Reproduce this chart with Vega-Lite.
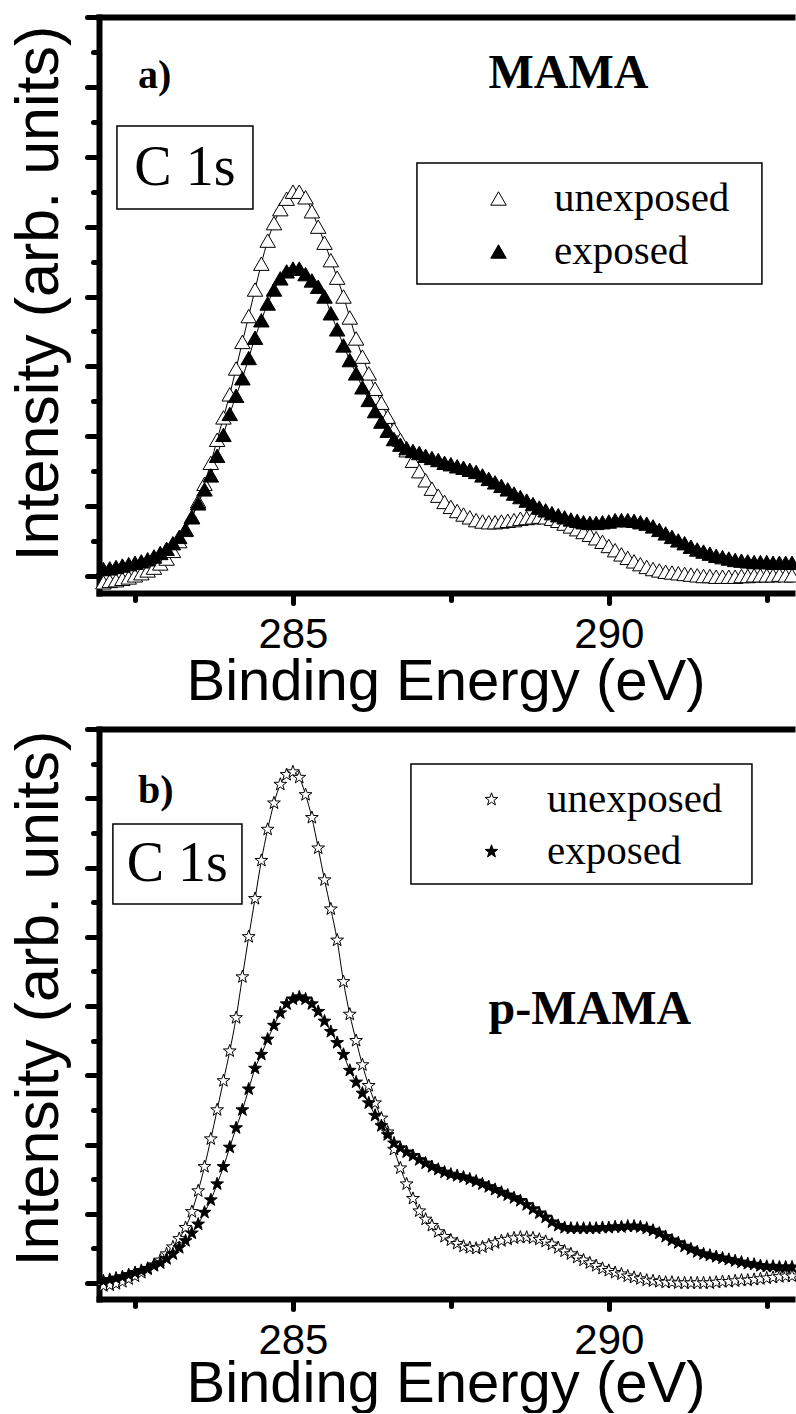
{
"$schema":"https://vega.github.io/schema/vega-lite/v6.json",
"background":"white",
"padding":{"left":8,"top":14,"right":0,"bottom":0},
"spacing":136,
"bounds":"flush",
"config":{"view":{"stroke":null},"font":"Liberation Sans"},
"resolve":{"scale":{"shape":"independent","fill":"independent","stroke":"independent"},"legend":{"shape":"independent","fill":"independent","stroke":"independent"}},
"vconcat":[
{
"width":693,"height":576,
"data":{"values":[
{"s":"unexposed","e":282.0,"i":-0.09},{"s":"unexposed","e":282.1,"i":-0.07},{"s":"unexposed","e":282.2,"i":-0.06},{"s":"unexposed","e":282.3,"i":-0.04},{"s":"unexposed","e":282.4,"i":-0.02},{"s":"unexposed","e":282.5,"i":0.01},{"s":"unexposed","e":282.6,"i":0.04},{"s":"unexposed","e":282.7,"i":0.08},{"s":"unexposed","e":282.8,"i":0.12},{"s":"unexposed","e":282.9,"i":0.18},
{"s":"unexposed","e":283.0,"i":0.25},{"s":"unexposed","e":283.1,"i":0.36},{"s":"unexposed","e":283.2,"i":0.5},{"s":"unexposed","e":283.3,"i":0.66},{"s":"unexposed","e":283.4,"i":0.85},{"s":"unexposed","e":283.5,"i":1.07},{"s":"unexposed","e":283.6,"i":1.32},{"s":"unexposed","e":283.7,"i":1.62},{"s":"unexposed","e":283.8,"i":1.95},{"s":"unexposed","e":283.9,"i":2.27},
{"s":"unexposed","e":284.0,"i":2.6},{"s":"unexposed","e":284.1,"i":2.97},{"s":"unexposed","e":284.2,"i":3.35},{"s":"unexposed","e":284.3,"i":3.72},{"s":"unexposed","e":284.4,"i":4.1},{"s":"unexposed","e":284.5,"i":4.47},{"s":"unexposed","e":284.6,"i":4.8},{"s":"unexposed","e":284.7,"i":5.05},{"s":"unexposed","e":284.8,"i":5.25},{"s":"unexposed","e":284.9,"i":5.4},
{"s":"unexposed","e":285.0,"i":5.5},{"s":"unexposed","e":285.1,"i":5.5},{"s":"unexposed","e":285.2,"i":5.42},{"s":"unexposed","e":285.3,"i":5.22},{"s":"unexposed","e":285.4,"i":5.0},{"s":"unexposed","e":285.5,"i":4.77},{"s":"unexposed","e":285.6,"i":4.52},{"s":"unexposed","e":285.7,"i":4.27},{"s":"unexposed","e":285.8,"i":4.0},{"s":"unexposed","e":285.9,"i":3.7},
{"s":"unexposed","e":286.0,"i":3.4},{"s":"unexposed","e":286.1,"i":3.14},{"s":"unexposed","e":286.2,"i":2.9},{"s":"unexposed","e":286.3,"i":2.68},{"s":"unexposed","e":286.4,"i":2.48},{"s":"unexposed","e":286.5,"i":2.28},{"s":"unexposed","e":286.6,"i":2.1},{"s":"unexposed","e":286.7,"i":1.95},{"s":"unexposed","e":286.8,"i":1.8},{"s":"unexposed","e":286.9,"i":1.65},
{"s":"unexposed","e":287.0,"i":1.5},{"s":"unexposed","e":287.1,"i":1.37},{"s":"unexposed","e":287.2,"i":1.25},{"s":"unexposed","e":287.3,"i":1.15},{"s":"unexposed","e":287.4,"i":1.06},{"s":"unexposed","e":287.5,"i":0.99},{"s":"unexposed","e":287.6,"i":0.93},{"s":"unexposed","e":287.7,"i":0.88},{"s":"unexposed","e":287.8,"i":0.84},{"s":"unexposed","e":287.9,"i":0.8},
{"s":"unexposed","e":288.0,"i":0.78},{"s":"unexposed","e":288.1,"i":0.77},{"s":"unexposed","e":288.2,"i":0.77},{"s":"unexposed","e":288.3,"i":0.78},{"s":"unexposed","e":288.4,"i":0.79},{"s":"unexposed","e":288.5,"i":0.8},{"s":"unexposed","e":288.6,"i":0.82},{"s":"unexposed","e":288.7,"i":0.83},{"s":"unexposed","e":288.8,"i":0.84},{"s":"unexposed","e":288.9,"i":0.85},
{"s":"unexposed","e":289.0,"i":0.84},{"s":"unexposed","e":289.1,"i":0.82},{"s":"unexposed","e":289.2,"i":0.79},{"s":"unexposed","e":289.3,"i":0.75},{"s":"unexposed","e":289.4,"i":0.71},{"s":"unexposed","e":289.5,"i":0.67},{"s":"unexposed","e":289.6,"i":0.63},{"s":"unexposed","e":289.7,"i":0.59},{"s":"unexposed","e":289.8,"i":0.54},{"s":"unexposed","e":289.9,"i":0.49},
{"s":"unexposed","e":290.0,"i":0.43},{"s":"unexposed","e":290.1,"i":0.37},{"s":"unexposed","e":290.2,"i":0.31},{"s":"unexposed","e":290.3,"i":0.26},{"s":"unexposed","e":290.4,"i":0.21},{"s":"unexposed","e":290.5,"i":0.17},{"s":"unexposed","e":290.6,"i":0.13},{"s":"unexposed","e":290.7,"i":0.1},{"s":"unexposed","e":290.8,"i":0.08},{"s":"unexposed","e":290.9,"i":0.06},
{"s":"unexposed","e":291.0,"i":0.05},{"s":"unexposed","e":291.1,"i":0.04},{"s":"unexposed","e":291.2,"i":0.03},{"s":"unexposed","e":291.3,"i":0.02},{"s":"unexposed","e":291.4,"i":0.01},{"s":"unexposed","e":291.5,"i":0.0},{"s":"unexposed","e":291.6,"i":0.0},{"s":"unexposed","e":291.7,"i":-0.01},{"s":"unexposed","e":291.8,"i":-0.01},{"s":"unexposed","e":291.9,"i":-0.01},
{"s":"unexposed","e":292.0,"i":-0.01},{"s":"unexposed","e":292.1,"i":0.0},{"s":"unexposed","e":292.2,"i":0.0},{"s":"unexposed","e":292.3,"i":0.01},{"s":"unexposed","e":292.4,"i":0.01},{"s":"unexposed","e":292.5,"i":0.01},{"s":"unexposed","e":292.6,"i":0.01},{"s":"unexposed","e":292.7,"i":0.02},{"s":"unexposed","e":292.8,"i":0.01},{"s":"unexposed","e":292.9,"i":0.01},
{"s":"exposed","e":282.0,"i":0.1},{"s":"exposed","e":282.1,"i":0.11},{"s":"exposed","e":282.2,"i":0.13},{"s":"exposed","e":282.3,"i":0.15},{"s":"exposed","e":282.4,"i":0.17},{"s":"exposed","e":282.5,"i":0.19},{"s":"exposed","e":282.6,"i":0.21},{"s":"exposed","e":282.7,"i":0.24},{"s":"exposed","e":282.8,"i":0.28},{"s":"exposed","e":282.9,"i":0.33},
{"s":"exposed","e":283.0,"i":0.39},{"s":"exposed","e":283.1,"i":0.47},{"s":"exposed","e":283.2,"i":0.56},{"s":"exposed","e":283.3,"i":0.67},{"s":"exposed","e":283.4,"i":0.84},{"s":"exposed","e":283.5,"i":1.04},{"s":"exposed","e":283.6,"i":1.24},{"s":"exposed","e":283.7,"i":1.44},{"s":"exposed","e":283.8,"i":1.72},{"s":"exposed","e":283.9,"i":2.02},
{"s":"exposed","e":284.0,"i":2.32},{"s":"exposed","e":284.1,"i":2.58},{"s":"exposed","e":284.2,"i":2.83},{"s":"exposed","e":284.3,"i":3.12},{"s":"exposed","e":284.4,"i":3.41},{"s":"exposed","e":284.5,"i":3.66},{"s":"exposed","e":284.6,"i":3.9},{"s":"exposed","e":284.7,"i":4.1},{"s":"exposed","e":284.8,"i":4.26},{"s":"exposed","e":284.9,"i":4.36},
{"s":"exposed","e":285.0,"i":4.4},{"s":"exposed","e":285.1,"i":4.4},{"s":"exposed","e":285.2,"i":4.32},{"s":"exposed","e":285.3,"i":4.23},{"s":"exposed","e":285.4,"i":4.14},{"s":"exposed","e":285.5,"i":4.0},{"s":"exposed","e":285.6,"i":3.76},{"s":"exposed","e":285.7,"i":3.53},{"s":"exposed","e":285.8,"i":3.3},{"s":"exposed","e":285.9,"i":3.09},
{"s":"exposed","e":286.0,"i":2.9},{"s":"exposed","e":286.1,"i":2.7},{"s":"exposed","e":286.2,"i":2.52},{"s":"exposed","e":286.3,"i":2.36},{"s":"exposed","e":286.4,"i":2.21},{"s":"exposed","e":286.5,"i":2.08},{"s":"exposed","e":286.6,"i":1.96},{"s":"exposed","e":286.7,"i":1.88},{"s":"exposed","e":286.8,"i":1.83},{"s":"exposed","e":286.9,"i":1.79},
{"s":"exposed","e":287.0,"i":1.76},{"s":"exposed","e":287.1,"i":1.72},{"s":"exposed","e":287.2,"i":1.69},{"s":"exposed","e":287.3,"i":1.66},{"s":"exposed","e":287.4,"i":1.62},{"s":"exposed","e":287.5,"i":1.6},{"s":"exposed","e":287.6,"i":1.57},{"s":"exposed","e":287.7,"i":1.55},{"s":"exposed","e":287.8,"i":1.52},{"s":"exposed","e":287.9,"i":1.49},
{"s":"exposed","e":288.0,"i":1.44},{"s":"exposed","e":288.1,"i":1.39},{"s":"exposed","e":288.2,"i":1.34},{"s":"exposed","e":288.3,"i":1.29},{"s":"exposed","e":288.4,"i":1.24},{"s":"exposed","e":288.5,"i":1.18},{"s":"exposed","e":288.6,"i":1.13},{"s":"exposed","e":288.7,"i":1.08},{"s":"exposed","e":288.8,"i":1.03},{"s":"exposed","e":288.9,"i":0.98},
{"s":"exposed","e":289.0,"i":0.94},{"s":"exposed","e":289.1,"i":0.9},{"s":"exposed","e":289.2,"i":0.87},{"s":"exposed","e":289.3,"i":0.84},{"s":"exposed","e":289.4,"i":0.81},{"s":"exposed","e":289.5,"i":0.79},{"s":"exposed","e":289.6,"i":0.77},{"s":"exposed","e":289.7,"i":0.76},{"s":"exposed","e":289.8,"i":0.76},{"s":"exposed","e":289.9,"i":0.77},
{"s":"exposed","e":290.0,"i":0.78},{"s":"exposed","e":290.1,"i":0.8},{"s":"exposed","e":290.2,"i":0.8},{"s":"exposed","e":290.3,"i":0.8},{"s":"exposed","e":290.4,"i":0.79},{"s":"exposed","e":290.5,"i":0.77},{"s":"exposed","e":290.6,"i":0.75},{"s":"exposed","e":290.7,"i":0.71},{"s":"exposed","e":290.8,"i":0.66},{"s":"exposed","e":290.9,"i":0.61},
{"s":"exposed","e":291.0,"i":0.56},{"s":"exposed","e":291.1,"i":0.51},{"s":"exposed","e":291.2,"i":0.47},{"s":"exposed","e":291.3,"i":0.42},{"s":"exposed","e":291.4,"i":0.38},{"s":"exposed","e":291.5,"i":0.35},{"s":"exposed","e":291.6,"i":0.32},{"s":"exposed","e":291.7,"i":0.29},{"s":"exposed","e":291.8,"i":0.27},{"s":"exposed","e":291.9,"i":0.25},
{"s":"exposed","e":292.0,"i":0.23},{"s":"exposed","e":292.1,"i":0.22},{"s":"exposed","e":292.2,"i":0.21},{"s":"exposed","e":292.3,"i":0.2},{"s":"exposed","e":292.4,"i":0.2},{"s":"exposed","e":292.5,"i":0.2},{"s":"exposed","e":292.6,"i":0.19},{"s":"exposed","e":292.7,"i":0.19},{"s":"exposed","e":292.8,"i":0.19},{"s":"exposed","e":292.9,"i":0.19}
]},
"resolve":{"axis":{"x":"independent","y":"independent"}},
"layer":[
{"mark":{"type":"line","color":"black","strokeWidth":1,"interpolate":"monotone"},
"encoding":{
"x":{"field":"e","type":"quantitative","scale":{"domain":[281.93,292.9],"nice":false,"zero":false},
"axis":{"orient":"bottom","values":[285,290],"format":"d","tickSize":10,"tickWidth":5,"tickCap":"round","tickColor":"black","domainColor":"black","domainWidth":6,"domainCap":"square","grid":false,"labelFont":"Liberation Sans","labelFontSize":42,"labelColor":"black","labelPadding":11,"labelFlush":false,"labelOverlap":false,"title":"Binding Energy (eV)","titleFont":"Liberation Sans","titleFontSize":58,"titleFontWeight":"normal","titleColor":"black","titlePadding":-2}},
"y":{"field":"i","type":"quantitative","scale":{"domain":[-0.243,8],"nice":false,"zero":false},
"axis":{"orient":"left","values":[0,1,2,3,4,5,6,7,8],"labels":false,"tickSize":12,"tickWidth":5,"tickCap":"round","tickColor":"black","domainColor":"black","domainWidth":6,"domainCap":"square","grid":false,"title":"Intensity (arb. units)","titleFont":"Liberation Sans","titleFontSize":61,"titleFontWeight":"normal","titleColor":"black","titlePadding":14,"titleY":276}},
"detail":{"field":"s"}}},
{"mark":{"type":"point","filled":true,"color":"black","stroke":"black","strokeWidth":1,"size":240,"opacity":1},
"encoding":{
"x":{"field":"e","type":"quantitative","axis":{"orient":"bottom","values":[282.5,287.5,292.5],"labels":false,"domain":false,"grid":false,"tickSize":7,"tickWidth":5,"tickCap":"round","tickColor":"black","title":null}},
"y":{"field":"i","type":"quantitative","axis":{"orient":"left","values":[0.5,1.5,2.5,3.5,4.5,5.5,6.5,7.5],"labels":false,"domain":false,"grid":false,"tickSize":6,"tickWidth":5,"tickCap":"round","tickColor":"black","title":null}},
"shape":{"field":"s","type":"nominal","scale":{"domain":["unexposed","exposed"],"range":["triangle-up","triangle-up"]},
"legend":{"orient":"none","direction":"vertical","legendX":379,"legendY":161,"title":null,"labelFont":"Liberation Serif","labelFontSize":41,"labelColor":"black","symbolSize":240,"symbolStrokeColor":"black","symbolStrokeWidth":1,"labelOffset":35,"rowPadding":11,"padding":0,"labelLimit":0}},
"fill":{"field":"s","type":"nominal","scale":{"domain":["unexposed","exposed"],"range":["white","black"]},
"legend":{"orient":"none","direction":"vertical","legendX":379,"legendY":161,"title":null,"labelFont":"Liberation Serif","labelFontSize":41,"labelColor":"black","symbolSize":240,"symbolStrokeColor":"black","symbolStrokeWidth":1,"labelOffset":35,"rowPadding":11,"padding":0,"labelLimit":0}},
"stroke":{"field":"s","type":"nominal","scale":{"domain":["unexposed","exposed"],"range":["black","black"]},
"legend":{"orient":"none","direction":"vertical","legendX":379,"legendY":161,"title":null,"labelFont":"Liberation Serif","labelFontSize":41,"labelColor":"black","symbolSize":240,"symbolStrokeColor":"black","symbolStrokeWidth":1,"labelOffset":35,"rowPadding":11,"padding":0,"labelLimit":0}}}},
{"data":{"values":[{}]},"mark":{"type":"rect","filled":false,"color":"black","strokeWidth":1.5},
"encoding":{"x":{"datum":286.963,"type":"quantitative","axis":{"orient":"top","ticks":false,"labels":false,"domain":true,"domainWidth":6,"domainColor":"black","domainCap":"square","grid":false,"title":null}},"x2":{"datum":292.424},"y":{"datum":5.91,"type":"quantitative","axis":null},"y2":{"datum":4.179}}},
{"data":{"values":[{}]},"mark":{"type":"rect","filled":false,"color":"black","strokeWidth":1.5},
"encoding":{"x":{"datum":282.214,"type":"quantitative","axis":null},"x2":{"datum":284.367},"y":{"datum":6.44,"type":"quantitative","axis":null},"y2":{"datum":5.252}}},
{"data":{"values":[{}]},"mark":{"type":"text","text":"C 1s","font":"Liberation Serif","fontSize":56,"align":"center","baseline":"middle","color":"black"},
"encoding":{"x":{"datum":283.29,"type":"quantitative","axis":null},"y":{"datum":5.84,"type":"quantitative","axis":null}}},
{"data":{"values":[{}]},"mark":{"type":"text","text":"a)","font":"Liberation Serif","fontWeight":"bold","fontSize":40,"align":"left","baseline":"alphabetic","color":"black"},
"encoding":{"x":{"datum":282.546,"type":"quantitative","axis":null},"y":{"datum":6.983,"type":"quantitative","axis":null}}},
{"data":{"values":[{}]},"mark":{"type":"text","text":"MAMA","font":"Liberation Serif","fontWeight":"bold","fontSize":48,"align":"center","baseline":"alphabetic","color":"black"},
"encoding":{"x":{"datum":289.361,"type":"quantitative","axis":null},"y":{"datum":6.983,"type":"quantitative","axis":null}}}
]
},
{
"width":693,"height":570,
"data":{"values":[
{"s":"unexposed","e":282.0,"i":-0.04},{"s":"unexposed","e":282.1,"i":-0.03},{"s":"unexposed","e":282.2,"i":-0.01},{"s":"unexposed","e":282.3,"i":0.02},{"s":"unexposed","e":282.4,"i":0.06},{"s":"unexposed","e":282.5,"i":0.1},{"s":"unexposed","e":282.6,"i":0.15},{"s":"unexposed","e":282.7,"i":0.2},{"s":"unexposed","e":282.8,"i":0.26},{"s":"unexposed","e":282.9,"i":0.33},
{"s":"unexposed","e":283.0,"i":0.42},{"s":"unexposed","e":283.1,"i":0.52},{"s":"unexposed","e":283.2,"i":0.64},{"s":"unexposed","e":283.3,"i":0.8},{"s":"unexposed","e":283.4,"i":1.03},{"s":"unexposed","e":283.5,"i":1.33},{"s":"unexposed","e":283.6,"i":1.68},{"s":"unexposed","e":283.7,"i":2.08},{"s":"unexposed","e":283.8,"i":2.5},{"s":"unexposed","e":283.9,"i":2.92},
{"s":"unexposed","e":284.0,"i":3.35},{"s":"unexposed","e":284.1,"i":3.83},{"s":"unexposed","e":284.2,"i":4.42},{"s":"unexposed","e":284.3,"i":5.0},{"s":"unexposed","e":284.4,"i":5.55},{"s":"unexposed","e":284.5,"i":6.1},{"s":"unexposed","e":284.6,"i":6.55},{"s":"unexposed","e":284.7,"i":6.93},{"s":"unexposed","e":284.8,"i":7.2},{"s":"unexposed","e":284.9,"i":7.34},
{"s":"unexposed","e":285.0,"i":7.38},{"s":"unexposed","e":285.1,"i":7.3},{"s":"unexposed","e":285.2,"i":7.05},{"s":"unexposed","e":285.3,"i":6.72},{"s":"unexposed","e":285.4,"i":6.28},{"s":"unexposed","e":285.5,"i":5.82},{"s":"unexposed","e":285.6,"i":5.4},{"s":"unexposed","e":285.7,"i":4.95},{"s":"unexposed","e":285.8,"i":4.35},{"s":"unexposed","e":285.9,"i":3.88},
{"s":"unexposed","e":286.0,"i":3.5},{"s":"unexposed","e":286.1,"i":3.15},{"s":"unexposed","e":286.2,"i":2.85},{"s":"unexposed","e":286.3,"i":2.6},{"s":"unexposed","e":286.4,"i":2.38},{"s":"unexposed","e":286.5,"i":2.18},{"s":"unexposed","e":286.6,"i":1.93},{"s":"unexposed","e":286.7,"i":1.66},{"s":"unexposed","e":286.8,"i":1.43},{"s":"unexposed","e":286.9,"i":1.22},
{"s":"unexposed","e":287.0,"i":1.04},{"s":"unexposed","e":287.1,"i":0.92},{"s":"unexposed","e":287.2,"i":0.83},{"s":"unexposed","e":287.3,"i":0.74},{"s":"unexposed","e":287.4,"i":0.67},{"s":"unexposed","e":287.5,"i":0.62},{"s":"unexposed","e":287.6,"i":0.57},{"s":"unexposed","e":287.7,"i":0.53},{"s":"unexposed","e":287.8,"i":0.51},{"s":"unexposed","e":287.9,"i":0.5},
{"s":"unexposed","e":288.0,"i":0.52},{"s":"unexposed","e":288.1,"i":0.55},{"s":"unexposed","e":288.2,"i":0.58},{"s":"unexposed","e":288.3,"i":0.61},{"s":"unexposed","e":288.4,"i":0.63},{"s":"unexposed","e":288.5,"i":0.65},{"s":"unexposed","e":288.6,"i":0.66},{"s":"unexposed","e":288.7,"i":0.66},{"s":"unexposed","e":288.8,"i":0.65},{"s":"unexposed","e":288.9,"i":0.63},
{"s":"unexposed","e":289.0,"i":0.6},{"s":"unexposed","e":289.1,"i":0.56},{"s":"unexposed","e":289.2,"i":0.51},{"s":"unexposed","e":289.3,"i":0.46},{"s":"unexposed","e":289.4,"i":0.42},{"s":"unexposed","e":289.5,"i":0.37},{"s":"unexposed","e":289.6,"i":0.33},{"s":"unexposed","e":289.7,"i":0.29},{"s":"unexposed","e":289.8,"i":0.25},{"s":"unexposed","e":289.9,"i":0.21},
{"s":"unexposed","e":290.0,"i":0.18},{"s":"unexposed","e":290.1,"i":0.15},{"s":"unexposed","e":290.2,"i":0.13},{"s":"unexposed","e":290.3,"i":0.1},{"s":"unexposed","e":290.4,"i":0.08},{"s":"unexposed","e":290.5,"i":0.06},{"s":"unexposed","e":290.6,"i":0.04},{"s":"unexposed","e":290.7,"i":0.03},{"s":"unexposed","e":290.8,"i":0.02},{"s":"unexposed","e":290.9,"i":0.01},
{"s":"unexposed","e":291.0,"i":0.01},{"s":"unexposed","e":291.1,"i":0.0},{"s":"unexposed","e":291.2,"i":0.0},{"s":"unexposed","e":291.3,"i":0.0},{"s":"unexposed","e":291.4,"i":0.0},{"s":"unexposed","e":291.5,"i":0.0},{"s":"unexposed","e":291.6,"i":0.0},{"s":"unexposed","e":291.7,"i":0.01},{"s":"unexposed","e":291.8,"i":0.02},{"s":"unexposed","e":291.9,"i":0.02},
{"s":"unexposed","e":292.0,"i":0.03},{"s":"unexposed","e":292.1,"i":0.04},{"s":"unexposed","e":292.2,"i":0.04},{"s":"unexposed","e":292.3,"i":0.05},{"s":"unexposed","e":292.4,"i":0.06},{"s":"unexposed","e":292.5,"i":0.07},{"s":"unexposed","e":292.6,"i":0.08},{"s":"unexposed","e":292.7,"i":0.09},{"s":"unexposed","e":292.8,"i":0.1},{"s":"unexposed","e":292.9,"i":0.1},
{"s":"exposed","e":282.0,"i":0.03},{"s":"exposed","e":282.1,"i":0.05},{"s":"exposed","e":282.2,"i":0.07},{"s":"exposed","e":282.3,"i":0.09},{"s":"exposed","e":282.4,"i":0.12},{"s":"exposed","e":282.5,"i":0.15},{"s":"exposed","e":282.6,"i":0.18},{"s":"exposed","e":282.7,"i":0.21},{"s":"exposed","e":282.8,"i":0.25},{"s":"exposed","e":282.9,"i":0.29},
{"s":"exposed","e":283.0,"i":0.35},{"s":"exposed","e":283.1,"i":0.42},{"s":"exposed","e":283.2,"i":0.51},{"s":"exposed","e":283.3,"i":0.61},{"s":"exposed","e":283.4,"i":0.72},{"s":"exposed","e":283.5,"i":0.85},{"s":"exposed","e":283.6,"i":1.02},{"s":"exposed","e":283.7,"i":1.2},{"s":"exposed","e":283.8,"i":1.43},{"s":"exposed","e":283.9,"i":1.68},
{"s":"exposed","e":284.0,"i":1.96},{"s":"exposed","e":284.1,"i":2.24},{"s":"exposed","e":284.2,"i":2.5},{"s":"exposed","e":284.3,"i":2.8},{"s":"exposed","e":284.4,"i":3.1},{"s":"exposed","e":284.5,"i":3.3},{"s":"exposed","e":284.6,"i":3.52},{"s":"exposed","e":284.7,"i":3.72},{"s":"exposed","e":284.8,"i":3.9},{"s":"exposed","e":284.9,"i":4.03},
{"s":"exposed","e":285.0,"i":4.1},{"s":"exposed","e":285.1,"i":4.13},{"s":"exposed","e":285.2,"i":4.1},{"s":"exposed","e":285.3,"i":4.03},{"s":"exposed","e":285.4,"i":3.92},{"s":"exposed","e":285.5,"i":3.78},{"s":"exposed","e":285.6,"i":3.63},{"s":"exposed","e":285.7,"i":3.47},{"s":"exposed","e":285.8,"i":3.3},{"s":"exposed","e":285.9,"i":3.07},
{"s":"exposed","e":286.0,"i":2.9},{"s":"exposed","e":286.1,"i":2.74},{"s":"exposed","e":286.2,"i":2.6},{"s":"exposed","e":286.3,"i":2.42},{"s":"exposed","e":286.4,"i":2.27},{"s":"exposed","e":286.5,"i":2.14},{"s":"exposed","e":286.6,"i":2.02},{"s":"exposed","e":286.7,"i":1.95},{"s":"exposed","e":286.8,"i":1.89},{"s":"exposed","e":286.9,"i":1.84},
{"s":"exposed","e":287.0,"i":1.78},{"s":"exposed","e":287.1,"i":1.73},{"s":"exposed","e":287.2,"i":1.68},{"s":"exposed","e":287.3,"i":1.64},{"s":"exposed","e":287.4,"i":1.6},{"s":"exposed","e":287.5,"i":1.57},{"s":"exposed","e":287.6,"i":1.55},{"s":"exposed","e":287.7,"i":1.53},{"s":"exposed","e":287.8,"i":1.5},{"s":"exposed","e":287.9,"i":1.47},
{"s":"exposed","e":288.0,"i":1.43},{"s":"exposed","e":288.1,"i":1.39},{"s":"exposed","e":288.2,"i":1.35},{"s":"exposed","e":288.3,"i":1.31},{"s":"exposed","e":288.4,"i":1.27},{"s":"exposed","e":288.5,"i":1.23},{"s":"exposed","e":288.6,"i":1.19},{"s":"exposed","e":288.7,"i":1.13},{"s":"exposed","e":288.8,"i":1.07},{"s":"exposed","e":288.9,"i":1.01},
{"s":"exposed","e":289.0,"i":0.95},{"s":"exposed","e":289.1,"i":0.88},{"s":"exposed","e":289.2,"i":0.83},{"s":"exposed","e":289.3,"i":0.8},{"s":"exposed","e":289.4,"i":0.79},{"s":"exposed","e":289.5,"i":0.79},{"s":"exposed","e":289.6,"i":0.79},{"s":"exposed","e":289.7,"i":0.79},{"s":"exposed","e":289.8,"i":0.79},{"s":"exposed","e":289.9,"i":0.8},
{"s":"exposed","e":290.0,"i":0.8},{"s":"exposed","e":290.1,"i":0.81},{"s":"exposed","e":290.2,"i":0.81},{"s":"exposed","e":290.3,"i":0.82},{"s":"exposed","e":290.4,"i":0.82},{"s":"exposed","e":290.5,"i":0.81},{"s":"exposed","e":290.6,"i":0.79},{"s":"exposed","e":290.7,"i":0.76},{"s":"exposed","e":290.8,"i":0.72},{"s":"exposed","e":290.9,"i":0.67},
{"s":"exposed","e":291.0,"i":0.62},{"s":"exposed","e":291.1,"i":0.58},{"s":"exposed","e":291.2,"i":0.53},{"s":"exposed","e":291.3,"i":0.49},{"s":"exposed","e":291.4,"i":0.45},{"s":"exposed","e":291.5,"i":0.42},{"s":"exposed","e":291.6,"i":0.4},{"s":"exposed","e":291.7,"i":0.38},{"s":"exposed","e":291.8,"i":0.36},{"s":"exposed","e":291.9,"i":0.34},
{"s":"exposed","e":292.0,"i":0.32},{"s":"exposed","e":292.1,"i":0.3},{"s":"exposed","e":292.2,"i":0.28},{"s":"exposed","e":292.3,"i":0.27},{"s":"exposed","e":292.4,"i":0.25},{"s":"exposed","e":292.5,"i":0.24},{"s":"exposed","e":292.6,"i":0.24},{"s":"exposed","e":292.7,"i":0.23},{"s":"exposed","e":292.8,"i":0.23},{"s":"exposed","e":292.9,"i":0.23}
]},
"resolve":{"axis":{"x":"independent","y":"independent"}},
"layer":[
{"mark":{"type":"line","color":"black","strokeWidth":1,"interpolate":"monotone"},
"encoding":{
"x":{"field":"e","type":"quantitative","scale":{"domain":[281.93,292.9],"nice":false,"zero":false},
"axis":{"orient":"bottom","values":[285,290],"format":"d","tickSize":10,"tickWidth":5,"tickCap":"round","tickColor":"black","domainColor":"black","domainWidth":6,"domainCap":"square","grid":false,"labelFont":"Liberation Sans","labelFontSize":42,"labelColor":"black","labelPadding":11,"labelFlush":false,"labelOverlap":false,"title":"Binding Energy (eV)","titleFont":"Liberation Sans","titleFontSize":58,"titleFontWeight":"normal","titleColor":"black","titlePadding":-6}},
"y":{"field":"i","type":"quantitative","scale":{"domain":[-0.23,8],"nice":false,"zero":false},
"axis":{"orient":"left","values":[0,1,2,3,4,5,6,7,8],"labels":false,"tickSize":12,"tickWidth":5,"tickCap":"round","tickColor":"black","domainColor":"black","domainWidth":6,"domainCap":"square","grid":false,"title":"Intensity (arb. units)","titleFont":"Liberation Sans","titleFontSize":61,"titleFontWeight":"normal","titleColor":"black","titlePadding":14,"titleY":269}},
"detail":{"field":"s"}}},
{"mark":{"type":"point","filled":true,"color":"black","stroke":"black","strokeWidth":1,"size":180,"opacity":1},
"encoding":{
"x":{"field":"e","type":"quantitative","axis":{"orient":"bottom","values":[282.5,287.5,292.5],"labels":false,"domain":false,"grid":false,"tickSize":7,"tickWidth":5,"tickCap":"round","tickColor":"black","title":null}},
"y":{"field":"i","type":"quantitative","axis":{"orient":"left","values":[0.5,1.5,2.5,3.5,4.5,5.5,6.5,7.5],"labels":false,"domain":false,"grid":false,"tickSize":6,"tickWidth":5,"tickCap":"round","tickColor":"black","title":null}},
"shape":{"field":"s","type":"nominal","scale":{"domain":["unexposed","exposed"],"range":["M0,-1L0.235,-0.324L0.951,-0.309L0.38,0.124L0.588,0.809L0,0.4L-0.588,0.809L-0.38,0.124L-0.951,-0.309L-0.235,-0.324Z","M0,-1L0.235,-0.324L0.951,-0.309L0.38,0.124L0.588,0.809L0,0.4L-0.588,0.809L-0.38,0.124L-0.951,-0.309L-0.235,-0.324Z"]},
"legend":{"orient":"none","direction":"vertical","legendX":372,"legendY":50,"title":null,"labelFont":"Liberation Serif","labelFontSize":41,"labelColor":"black","symbolSize":180,"symbolStrokeColor":"black","symbolStrokeWidth":1,"labelOffset":35,"rowPadding":10,"padding":0,"labelLimit":0}},
"fill":{"field":"s","type":"nominal","scale":{"domain":["unexposed","exposed"],"range":["white","black"]},
"legend":{"orient":"none","direction":"vertical","legendX":372,"legendY":50,"title":null,"labelFont":"Liberation Serif","labelFontSize":41,"labelColor":"black","symbolSize":180,"symbolStrokeColor":"black","symbolStrokeWidth":1,"labelOffset":35,"rowPadding":10,"padding":0,"labelLimit":0}},
"stroke":{"field":"s","type":"nominal","scale":{"domain":["unexposed","exposed"],"range":["black","black"]},
"legend":{"orient":"none","direction":"vertical","legendX":372,"legendY":50,"title":null,"labelFont":"Liberation Serif","labelFontSize":41,"labelColor":"black","symbolSize":180,"symbolStrokeColor":"black","symbolStrokeWidth":1,"labelOffset":35,"rowPadding":10,"padding":0,"labelLimit":0}}}},
{"data":{"values":[{}]},"mark":{"type":"rect","filled":false,"color":"black","strokeWidth":1.5},
"encoding":{"x":{"datum":286.868,"type":"quantitative","axis":{"orient":"top","ticks":false,"labels":false,"domain":true,"domainWidth":6,"domainColor":"black","domainCap":"square","grid":false,"title":null}},"x2":{"datum":292.266},"y":{"datum":7.494,"type":"quantitative","axis":null},"y2":{"datum":5.761}}},
{"data":{"values":[{}]},"mark":{"type":"rect","filled":false,"color":"black","strokeWidth":1.5},
"encoding":{"x":{"datum":282.15,"type":"quantitative","axis":null},"x2":{"datum":284.193},"y":{"datum":6.627,"type":"quantitative","axis":null},"y2":{"datum":5.472}}},
{"data":{"values":[{}]},"mark":{"type":"text","text":"C 1s","font":"Liberation Serif","fontSize":56,"align":"center","baseline":"middle","color":"black"},
"encoding":{"x":{"datum":283.17,"type":"quantitative","axis":null},"y":{"datum":6.05,"type":"quantitative","axis":null}}},
{"data":{"values":[{}]},"mark":{"type":"text","text":"b)","font":"Liberation Serif","fontWeight":"bold","fontSize":40,"align":"left","baseline":"alphabetic","color":"black"},
"encoding":{"x":{"datum":282.546,"type":"quantitative","axis":null},"y":{"datum":6.93,"type":"quantitative","axis":null}}},
{"data":{"values":[{}]},"mark":{"type":"text","text":"p-MAMA","font":"Liberation Serif","fontWeight":"bold","fontSize":48,"align":"center","baseline":"alphabetic","color":"black"},
"encoding":{"x":{"datum":289.70,"type":"quantitative","axis":null},"y":{"datum":3.74,"type":"quantitative","axis":null}}}
]
}
]
}
